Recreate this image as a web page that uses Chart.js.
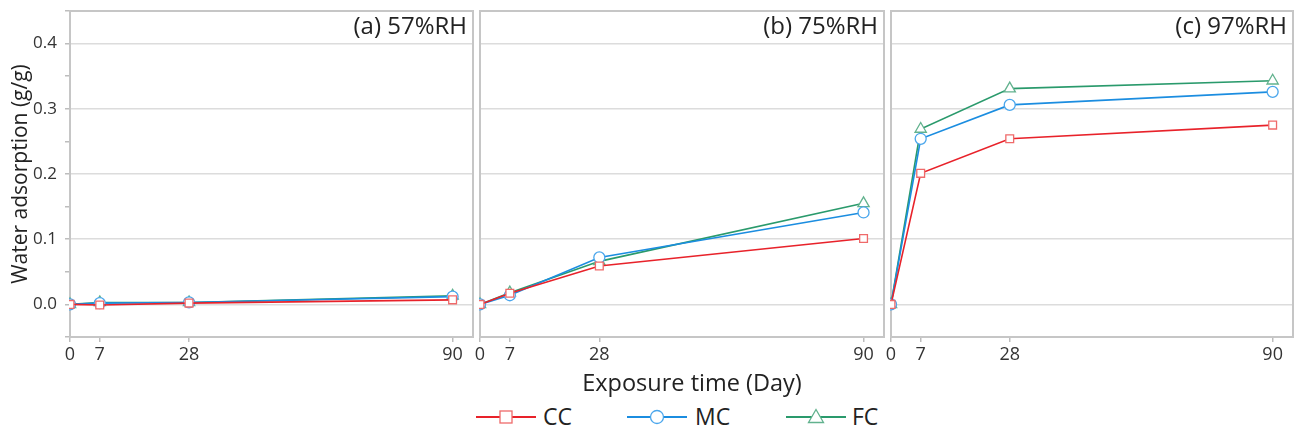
<!DOCTYPE html>
<html>
<head>
<meta charset="utf-8">
<script src="https://cdn.jsdelivr.net/npm/chart.js@4.4.1/dist/chart.umd.min.js"></script>
<style>
  body { margin: 0; background: #fff; width: 1299px; height: 433px; position: relative; overflow: hidden;
         font-family: 'Open Sans', sans-serif; color: #222; }
  .panel { position: absolute; top: 0; height: 365px; }
  #xtitle { position: absolute; left: 492px; width: 400px; top: 367px; line-height: 30px;
            text-align: center; font-size: 23.5px; }
  .lg { position: absolute; top: 405px; height: 24px; }
  .lgt { position: absolute; top: 401px; font-size: 23px; line-height: 30px; }
</style>
</head>
<body>
<div class="panel" style="left:0;width:476px"><canvas id="c1"></canvas></div>
<div class="panel" style="left:466px;width:420px"><canvas id="c2"></canvas></div>
<div class="panel" style="left:877px;width:422px"><canvas id="c3"></canvas></div>
<div id="xtitle">Exposure time (Day)</div>
<div id="legend"></div>

<script>
// exposure days
const days = [0, 7, 28, 90];
const xTicks = [0, 7, 28, 90];

// water adsorption (g/g), one array per humidity
const cc57 = [0, -0.001, 0.002, 0.007];
const mc57 = [0, 0.002, 0.003, 0.012];
const fc57 = [0, 0.003, 0.003, 0.013];

const cc75 = [0, 0.017, 0.059, 0.101];
const mc75 = [0, 0.014, 0.072, 0.141];
const fc75 = [0, 0.018, 0.066, 0.155];

const cc97 = [0, 0.201, 0.254, 0.275];
const mc97 = [0, 0.254, 0.306, 0.326];
const fc97 = [0, 0.269, 0.331, 0.343];

const series = [
  { label: 'CC', line: '#e8222a', mark: '#ef6a6a', style: 'rect' },
  { label: 'MC', line: '#1b8de0', mark: '#4aa6ec', style: 'circle' },
  { label: 'FC', line: '#2a9a6c', mark: '#62b28e', style: 'triangle' }
];

const grid = '#dcdcdc';
const frame = '#c6c6c6';

const framePlugin = {
  id: 'frame',
  beforeDatasetsDraw(chart) {
    const a = chart.chartArea, ctx = chart.ctx;
    ctx.save();
    ctx.strokeStyle = frame;
    ctx.lineWidth = 2;
    ctx.strokeRect(a.left, a.top, a.right - a.left, a.bottom - a.top);
    ctx.restore();
  },
  afterDraw(chart, args, opts) {
    const a = chart.chartArea, ctx = chart.ctx;
    ctx.save();
    ctx.font = '24px "Open Sans"';
    ctx.fillStyle = '#222';
    ctx.textAlign = 'right';
    ctx.textBaseline = 'middle';
    ctx.fillText(opts.text, a.right - 6, a.top + 16);
    ctx.restore();
  }
};

// drop the automatic label overhang so every panel keeps the same plot box
function noPad(scale) {
  scale.paddingLeft = 0;
  scale.paddingRight = 0;
  scale.paddingTop = 0;
  scale.paddingBottom = 0;
}

function makePanel(id, title, values, first, padLeft, padRight) {
  const datasets = series.map((s, i) => ({
    label: s.label,
    data: days.map((d, j) => ({ x: d, y: values[i][j] })),
    borderColor: s.line,
    borderWidth: 1.6,
    tension: 0,
    clip: 1,
    pointStyle: s.style,
    pointRadius: s.style === 'triangle' ? 6.5 : 5.5,
    pointBackgroundColor: '#fff',
    pointBorderColor: s.mark,
    pointBorderWidth: 1.3
  }));

  const isMajor = v => {
    const k = Math.round(v * 100);
    return k >= 0 && k <= 40 && k % 10 === 0;
  };

  new Chart(document.getElementById(id), {
    type: 'line',
    data: { datasets: datasets },
    plugins: [framePlugin],
    options: {
      responsive: true,
      maintainAspectRatio: false,
      animation: false,
      layout: { autoPadding: false, padding: { top: 11, right: padRight, left: padLeft, bottom: 0 } },
      plugins: {
        legend: { display: false },
        tooltip: { enabled: false },
        frame: { text: title }
      },
      scales: {
        x: {
          type: 'linear',
          min: 0,
          max: 94.8,
          afterBuildTicks: scale => { scale.ticks = xTicks.map(v => ({ value: v })); },
          afterFit: scale => { scale.height = 28; noPad(scale); },
          border: { display: false },
          grid: { drawOnChartArea: false, drawTicks: true, tickLength: 5, tickColor: '#bdbdbd', lineWidth: 1.5 },
          ticks: { autoSkip: false, maxRotation: 0, padding: 2, color: '#333',
                   font: { family: 'Open Sans', size: 18 } }
        },
        y: {
          min: -0.05,
          max: 0.45,
          afterFit: scale => { scale.width = first ? 70 : 0; noPad(scale); },
          border: { display: false },
          grid: {
            color: ctx => isMajor(ctx.tick.value) ? grid : 'rgba(0,0,0,0)',
            lineWidth: 1.5,
            drawTicks: first,
            tickLength: 5,
            tickColor: '#bdbdbd'
          },
          ticks: {
            display: first,
            stepSize: 0.05,
            padding: 8,
            color: '#333',
            font: { family: 'Open Sans', size: 17 },
            callback: v => isMajor(v) ? v.toFixed(1) : ''
          },
          title: {
            display: first,
            text: 'Water adsorption (g/g)',
            color: '#222',
            padding: { top: 8, bottom: 0 },
            font: { family: 'Open Sans', size: 21 }
          }
        }
      }
    }
  });
}

makePanel('c1', '(a) 57%RH', [cc57, mc57, fc57], true, 0, 3);
makePanel('c2', '(b) 75%RH', [cc75, mc75, fc75], false, 14, 2);
makePanel('c3', '(c) 97%RH', [cc97, mc97, fc97], false, 14, 6);

// shared legend under the panels
const legendPos = [[476, 543], [627, 695], [786, 852]];
const markers = {
  rect: c => `<rect x="24" y="6" width="12" height="12" fill="#fff" stroke="${c}" stroke-width="1.3"/>`,
  circle: c => `<circle cx="30" cy="12" r="6.5" fill="#fff" stroke="${c}" stroke-width="1.3"/>`,
  triangle: c => `<polygon points="30,4.5 37.5,17.5 22.5,17.5" fill="#fff" stroke="${c}" stroke-width="1.3"/>`
};
let html = '';
series.forEach((s, i) => {
  const [lx, tx] = legendPos[i];
  html += `<svg class="lg" style="left:${lx}px" width="60" height="24">
    <line x1="0" y1="12" x2="60" y2="12" stroke="${s.line}" stroke-width="1.8"/>${markers[s.style](s.mark)}</svg>
    <span class="lgt" style="left:${tx}px">${s.label}</span>`;
});
document.getElementById('legend').innerHTML = html;
</script>
</body>
</html>
